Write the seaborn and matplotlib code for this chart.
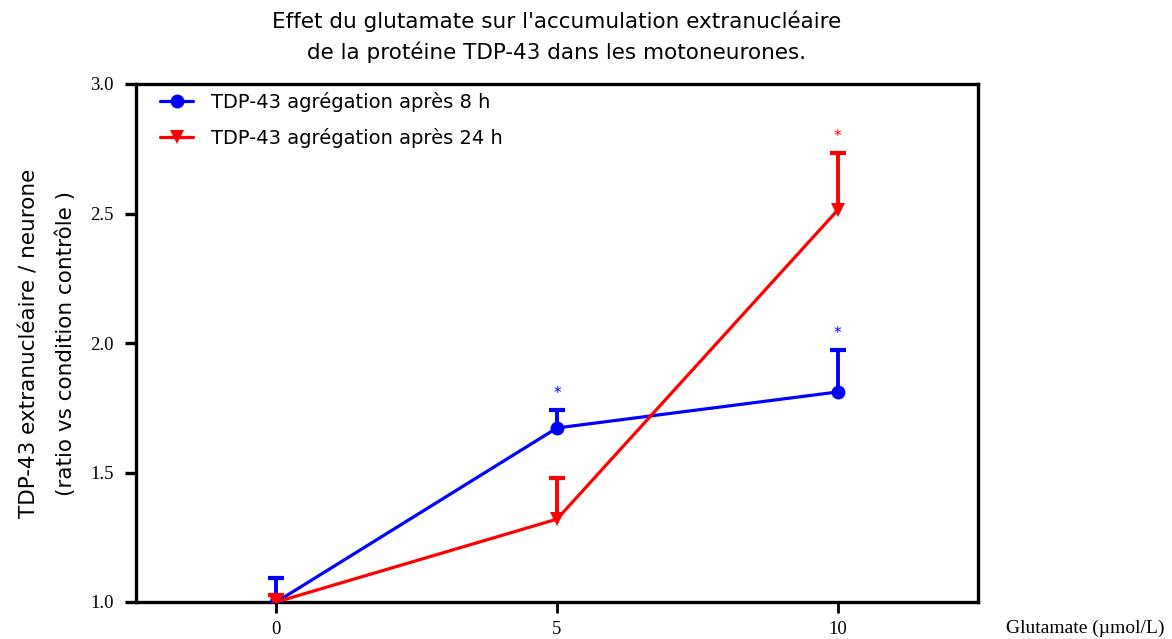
import matplotlib
matplotlib.use("Agg")
import matplotlib.pyplot as plt
import seaborn as sns
import pandas as pd
import numpy as np

# Data
glutamate = [0, 5, 10]
series_names = ["TDP-43 agrégation après 8 h", "TDP-43 agrégation après 24 h"]
ratio_8h = [1.00, 1.672, 1.811]
err_8h = [0.093, 0.069, 0.162]
ratio_24h = [1.00, 1.320, 2.513]
err_24h = [0.027, 0.159, 0.221]
signif_8h = ["", "*", "*"]
signif_24h = ["", "", "*"]
y_ticks = [1.0, 1.5, 2.0, 2.5, 3.0]
x_ticks = [0, 5, 10]

colors = {series_names[0]: "#0000FF", series_names[1]: "#FF0000"}
markers = {series_names[0]: "o", series_names[1]: "v"}

df = pd.DataFrame({
    "glutamate": glutamate * 2,
    "ratio": ratio_8h + ratio_24h,
    "serie": [series_names[0]] * 3 + [series_names[1]] * 3,
})

sns.set_theme(style="white")
plt.rcParams["font.family"] = ["DejaVu Sans"]
plt.rcParams.update({"text.color": "black", "axes.labelcolor": "black",
                     "xtick.color": "black", "ytick.color": "black"})

fig = plt.figure(figsize=(11.72, 6.39), dpi=100)
ax = fig.add_axes([136 / 1172, 1 - 602 / 639, (978 - 136) / 1172, (602 - 84) / 639])

# One-sided (upper) error bars: stem from the mean up to mean + SEM, cap on top only
for vals, errs, name in [(ratio_8h, err_8h, series_names[0]), (ratio_24h, err_24h, series_names[1])]:
    vals = np.asarray(vals)
    tops = vals + np.asarray(errs)
    ax.vlines(glutamate, vals, tops, color=colors[name], linewidth=2.8, zorder=2)
    ax.plot(glutamate, tops, linestyle="none", marker="_", markersize=12,
            markeredgewidth=3.0, color=colors[name], zorder=2)

sns.lineplot(data=df, x="glutamate", y="ratio", hue="serie", style="serie",
             palette=colors, markers=markers, dashes=False, linewidth=2.3,
             markersize=10, markeredgewidth=0, ax=ax, zorder=3)

# Significance asterisks above the error bars
for vals, errs, marks, name in [(ratio_8h, err_8h, signif_8h, series_names[0]),
                                (ratio_24h, err_24h, signif_24h, series_names[1])]:
    for x, v, e, m in zip(glutamate, vals, errs, marks):
        if m:
            ax.text(x, v + e + 0.065, m, color=colors[name], ha="center", va="center",
                    fontsize=11)

ax.set_xlim(-2.5, 12.5)
ax.set_ylim(1.0, 3.0)
ax.set_xticks(x_ticks)
ax.set_yticks(y_ticks)
ax.set_yticklabels([f"{t:.1f}" for t in y_ticks])
ax.set_xlabel("")
ax.set_ylabel("TDP-43 extranucléaire / neurone\n(ratio vs condition contrôle )",
              fontsize=15.5, labelpad=10, linespacing=2.0)

for sp in ax.spines.values():
    sp.set_visible(True)
    sp.set_color("black")
    sp.set_linewidth(2.4)

ax.tick_params(axis="y", direction="out", length=8, width=2.4, left=True, pad=8,
               labelsize=13.5, labelfontfamily="Liberation Serif")
ax.tick_params(axis="x", direction="out", length=8, width=2.0, bottom=True, pad=6,
               labelsize=13.5, labelfontfamily="Liberation Serif")

leg = ax.legend(loc="upper left", frameon=False, fontsize=14, handlelength=1.7,
                borderaxespad=0, borderpad=0, labelspacing=0.8, handletextpad=0.9,
                bbox_to_anchor=((160 - 136) / 842, 1 - (92 - 84) / 518))

fig.text(0.994, 1 - 628 / 639, "Glutamate (µmol/L)", ha="right", va="center",
         fontsize=14, family="Liberation Serif")

fig.text(557 / 1172, 1 - 37 / 639,
         "Effet du glutamate sur l'accumulation extranucléaire\nde la protéine TDP-43 dans les motoneurones.",
         ha="center", va="center", fontsize=15.5, linespacing=1.55)

fig.savefig("out.png", dpi=100)
